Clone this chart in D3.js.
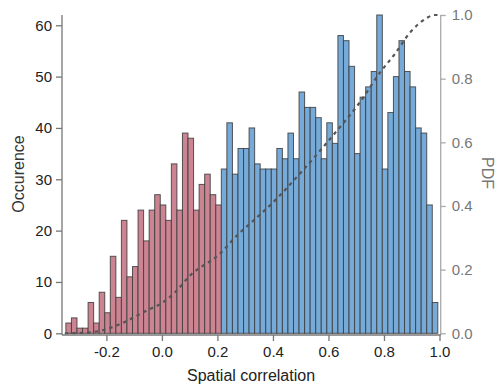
<!DOCTYPE html>
<html>
<head>
<meta charset="utf-8">
<script src="https://cdn.jsdelivr.net/npm/d3@7"></script>
<style>
  body { margin: 0; background: #fff; }
  text { font-family: "Liberation Sans", Arial, sans-serif; }
</style>
</head>
<body>
<svg width="498" height="385"></svg>
<script>
// histogram bins (width 0.02), counts
var binStart = -0.346;
var binWidth = 0.02;
var splitAt = 28; // first 28 bins are pink, the rest blue
var counts = [
  2, 3, 1, 1, 6, 2, 8, 4, 15, 7, 22, 11, 13, 24, 18, 24, 27, 25, 22, 33,
  24, 39, 38, 24, 29, 31, 27, 25,
  32, 41, 31, 36, 36, 40, 33, 32, 32, 32, 36, 34, 39, 34, 47,
  44, 44, 42, 34, 41, 37, 58, 57, 52, 35, 46, 48, 51, 62, 32, 43, 50,
  57, 51, 48, 40, 39, 25, 6
];

// dashed cumulative curve
var cdfX = [-0.35, -0.30, -0.24, -0.20, -0.126, -0.054, 0.0, 0.054, 0.096, 0.21,
  0.271, 0.331, 0.415, 0.487, 0.571, 0.632, 0.71, 0.788, 0.836, 0.896, 0.957, 0.98, 0.995];
var cdfY = [0.0, 0.001, 0.005, 0.013, 0.039, 0.072, 0.095, 0.135, 0.177, 0.251,
  0.308, 0.355, 0.424, 0.492, 0.575, 0.638, 0.722, 0.822, 0.874, 0.947, 0.992, 1.0, 1.0];

var xTicks = [-0.2, 0.0, 0.2, 0.4, 0.6, 0.8, 1.0];
var yTicks = [0, 10, 20, 30, 40, 50, 60];
var pdfTicks = [0.0, 0.2, 0.4, 0.6, 0.8, 1.0];

var svg = d3.select('svg');

var x = d3.scaleLinear().domain([-0.36, 1.0]).range([62, 439.5]);
var y = d3.scaleLinear().domain([0, 62]).range([333.3, 15]);
var y2 = d3.scaleLinear().domain([0, 1]).range([333.3, 15]);

var fmt1 = function(v) { return v.toFixed(1); }; // plain hyphen minus

var bins = counts.map(function(c, i) {
  return { x0: binStart + i * binWidth, x1: binStart + (i + 1) * binWidth, n: c, pink: i < splitAt };
});

svg.append('g').selectAll('rect')
  .data(bins).enter().append('rect')
  .attr('x', function(d) { return x(d.x0); })
  .attr('width', function(d) { return x(d.x1) - x(d.x0); })
  .attr('y', function(d) { return y(d.n); })
  .attr('height', function(d) { return y(0) - y(d.n); })
  .attr('fill', function(d) { return d.pink ? '#cc8492' : '#75aad9'; })
  .attr('stroke', '#3c3c3c')
  .attr('stroke-opacity', 0.85)
  .attr('stroke-width', 1);

// cumulative dashed line
var pts = cdfX.map(function(v, i) { return [v, cdfY[i]]; });
svg.append('path')
  .attr('d', d3.line()
    .x(function(d) { return x(d[0]); })
    .y(function(d) { return y2(d[1]); })
    .curve(d3.curveMonotoneX)(pts))
  .attr('fill', 'none')
  .attr('stroke', '#555')
  .attr('stroke-width', 2.2)
  .attr('stroke-dasharray', '3.5,4');

// left axis
var left = svg.append('g')
  .attr('transform', 'translate(62,0)')
  .call(d3.axisLeft(y).tickValues(yTicks).tickSize(6).tickPadding(4).tickFormat(d3.format('d')));
left.select('.domain').attr('d', 'M0,15V335').attr('stroke', '#777').attr('stroke-width', 1.3);
left.selectAll('.tick line').attr('stroke', '#777').attr('stroke-width', 1.3);
left.selectAll('.tick text').attr('font-size', 15).attr('fill', '#222')
  .attr('font-family', '"Liberation Sans", Arial, sans-serif');

// right axis
var right = svg.append('g')
  .attr('transform', 'translate(440.7,0)')
  .call(d3.axisRight(y2).tickValues(pdfTicks).tickSize(5).tickPadding(6).tickFormat(fmt1));
right.select('.domain').attr('d', 'M0,15V335').attr('stroke', '#aaa').attr('stroke-width', 1.3);
right.selectAll('.tick line').attr('stroke', '#aaa').attr('stroke-width', 1.3);
right.selectAll('.tick text').attr('font-size', 15).attr('fill', '#777')
  .attr('font-family', '"Liberation Sans", Arial, sans-serif');

// bottom axis
var bottom = svg.append('g')
  .attr('transform', 'translate(0,335)')
  .call(d3.axisBottom(x).tickValues(xTicks).tickSize(6).tickPadding(5).tickFormat(fmt1));
bottom.select('.domain').attr('d', 'M62,0H440.7').attr('stroke', '#777').attr('stroke-width', 1.3);
bottom.selectAll('.tick line').attr('stroke', '#777').attr('stroke-width', 1.3);
bottom.selectAll('.tick text').attr('font-size', 15).attr('fill', '#222')
  .attr('font-family', '"Liberation Sans", Arial, sans-serif');

// titles
svg.append('text')
  .attr('transform', 'translate(24,174)rotate(-90)')
  .attr('text-anchor', 'middle')
  .attr('font-size', 16).attr('fill', '#333')
  .text('Occurence');

svg.append('text')
  .attr('transform', 'translate(482,173)rotate(90)')
  .attr('text-anchor', 'middle')
  .attr('font-size', 16).attr('fill', '#777')
  .text('PDF');

svg.append('text')
  .attr('x', 251).attr('y', 381)
  .attr('text-anchor', 'middle')
  .attr('font-size', 16).attr('fill', '#222')
  .text('Spatial correlation');
</script>
</body>
</html>
